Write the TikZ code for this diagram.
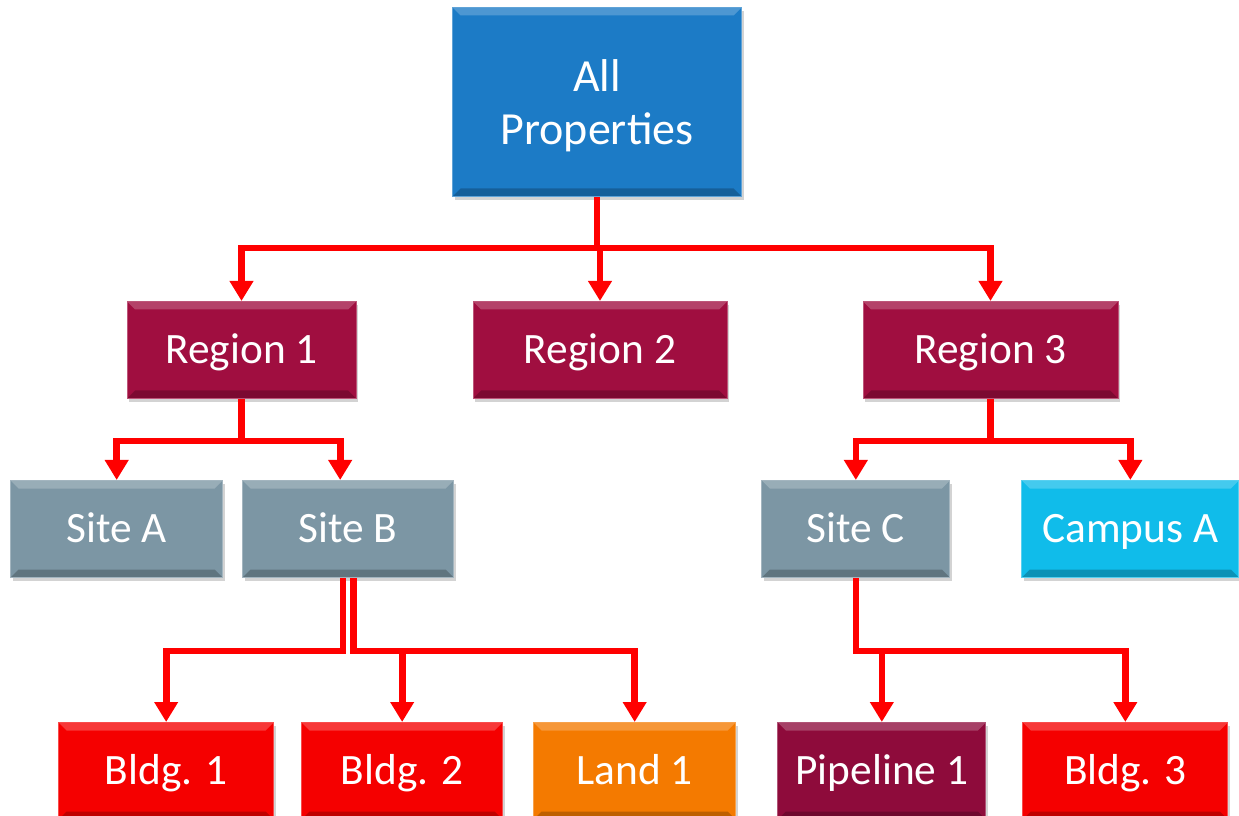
\documentclass[tikz,border=0pt]{standalone}
\usepackage{fontspec}
\setmainfont{Carlito}
\usetikzlibrary{positioning,arrows.meta,shadows}
\definecolor{topblue}{HTML}{1C7BC6}
\definecolor{regionred}{HTML}{A00E40}
\definecolor{sitegrey}{HTML}{7C96A4}
\definecolor{campuscyan}{HTML}{10BCEA}
\definecolor{bldgred}{HTML}{F50000}
\definecolor{landorange}{HTML}{F47A00}
\definecolor{pipered}{HTML}{8E0B3B}
\definecolor{linkred}{HTML}{FF0000}
\tikzset{unitbox/.style={rectangle,fill=#1,draw=#1!70!white,line width=0.75pt,text=white,
    font=\fontsize{32.5}{38}\selectfont,align=center,inner sep=0pt,minimum height=72.75pt,
    text height=20.5pt,text depth=0pt,
    drop shadow={shadow xshift=1.5pt,shadow yshift=-2.5pt,opacity=0.35},
    path picture={
        \fill[white,opacity=0.22] (path picture bounding box.north west) -- (path picture bounding box.north east)
            -- ([xshift=-6pt,yshift=-6pt]path picture bounding box.north east) -- ([xshift=6pt,yshift=-6pt]path picture bounding box.north west) -- cycle;
        \fill[black,opacity=0.22] (path picture bounding box.south west) -- (path picture bounding box.south east)
            -- ([xshift=-6pt,yshift=6pt]path picture bounding box.south east) -- ([xshift=6pt,yshift=6pt]path picture bounding box.south west) -- cycle;
    }}}
\tikzset{link/.style={draw=linkred,line width=5pt}}
\tikzset{linkarrow/.style={link,-{Triangle[length=15pt,width=17pt]}}}

\begin{document}
\begin{tikzpicture}
        \useasboundingbox (0,0) rectangle (929.25pt,-612pt);

        \node[unitbox=topblue,minimum width=216.75pt,minimum height=141.75pt,font=\fontsize{34.5}{40}\selectfont,text height=,text depth=0pt] (all) at (447.75pt,-76.5pt) {All\\Properties};
        \node[unitbox=regionred,minimum width=190.5pt,below=78pt of all,xshift=2.25pt] (reg2) {Region 2};
        \node[unitbox=regionred,minimum width=171.75pt,left=87pt of reg2] (reg1) {Region 1};
        \node[unitbox=regionred,minimum width=191.25pt,right=101.25pt of reg2] (reg3) {Region 3};

        \node[unitbox=sitegrey,minimum width=158.25pt,below=60.75pt of reg1,xshift=80pt] (siteB) {Site B};
        \node[unitbox=sitegrey,minimum width=159pt,left=14.25pt of siteB] (siteA) {Site A};
        \node[unitbox=sitegrey,minimum width=141pt,below=60.75pt of reg3,xshift=-101pt] (siteC) {Site C};
        \node[unitbox=campuscyan,minimum width=162.75pt,right=53.25pt of siteC] (campusA) {Campus A};

        \node[unitbox=bldgred,minimum width=150.75pt,below=108pt of siteB,xshift=40.5pt] (bldg2) {Bldg. 2};
        \node[unitbox=bldgred,minimum width=161.25pt,left=20.25pt of bldg2] (bldg1) {Bldg. 1};
        \node[unitbox=landorange,minimum width=151.5pt,right=22.5pt of bldg2] (land1) {Land 1};
        \node[unitbox=pipered,minimum width=156pt,below=108pt of siteC,xshift=19.5pt] (pipe1) {Pipeline 1};
        \node[unitbox=bldgred,minimum width=153.75pt,right=27pt of pipe1] (bldg3) {Bldg. 3};

        \coordinate[below=38.25pt of all] (allfork);
        \coordinate[below=31.5pt of reg1] (reg1fork);
        \coordinate[below=31.5pt of reg3] (reg3fork);
        \coordinate[below=54.75pt of siteB] (siteBfork);
        \coordinate[below=54.75pt of siteC] (siteCfork);

        \draw[link] (all.south) -- (allfork);
        \draw[linkarrow] (allfork) -| (reg1.north);
        \draw[linkarrow] (allfork) -| (reg2.north);
        \draw[linkarrow] (allfork) -| (reg3.north);

        \draw[link] (reg1.south) -- (reg1fork);
        \draw[linkarrow] (reg1fork) -| (siteA.north);
        \draw[linkarrow] (reg1fork) -| ([xshift=-6pt]siteB.north);

        \draw[link] (reg3.south) -- (reg3fork);
        \draw[linkarrow] (reg3fork) -| (siteC.north);
        \draw[linkarrow] (reg3fork) -| (campusA.north);

        \draw[linkarrow] ([xshift=-4pt]siteB.south) -- ([xshift=-4pt]siteBfork) -| (bldg1.north);
        \draw[linkarrow] ([xshift=4pt]siteB.south) -- ([xshift=4pt]siteBfork) -| (land1.north);
        \draw[linkarrow] (siteBfork -| bldg2.north) -- (bldg2.north);

        \draw[linkarrow] (siteC.south) -- (siteCfork) -| (bldg3.north);
        \draw[linkarrow] (siteCfork -| pipe1.north) -- (pipe1.north);
    \end{tikzpicture}
\end{document}
